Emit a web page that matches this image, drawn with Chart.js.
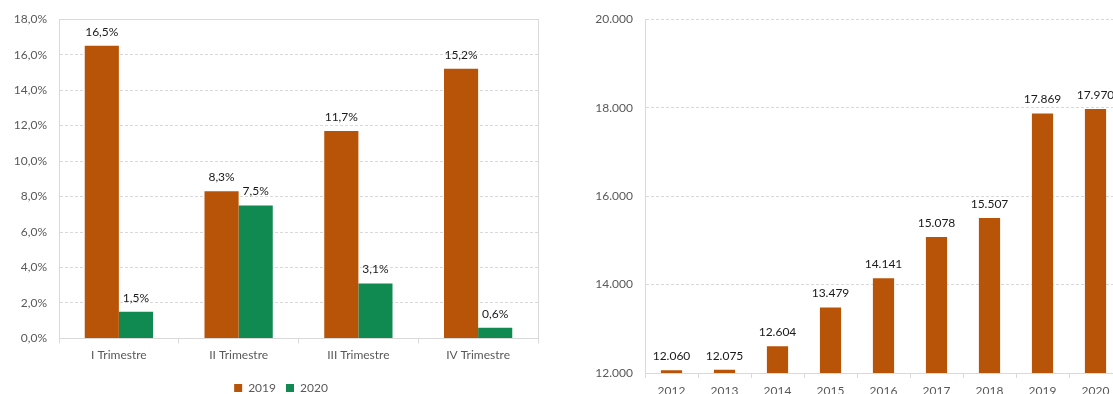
<!DOCTYPE html>
<html>
<head>
<meta charset="utf-8">
<script src="https://cdn.jsdelivr.net/npm/chart.js@4.4.0/dist/chart.umd.min.js"></script>
<style>
    html, body { margin: 0; padding: 0; background: #fff; overflow: hidden; }
    #wrap { position: relative; width: 1113px; height: 394px; overflow: hidden; }
    #trimestri { position: absolute; left: 0; top: 0; }
    #anni { position: absolute; left: 560px; top: 0; }
</style>
</head>
<body>
<div id="wrap">
    <canvas id="trimestri" width="560" height="404"></canvas>
    <canvas id="anni" width="580" height="420"></canvas>
</div>
<script>
// dati - grafico trimestri
const trimestri = ['I Trimestre', 'II Trimestre', 'III Trimestre', 'IV Trimestre'];
const valori2019 = [16.5, 8.3, 11.7, 15.2];
const valori2020 = [1.5, 7.5, 3.1, 0.6];

// dati - grafico anni
const anni = ['2012', '2013', '2014', '2015', '2016', '2017', '2018', '2019', '2020'];
const valoriAnni = [12060, 12075, 12604, 13479, 14141, 15078, 15507, 17869, 17970];

const ARANCIO = '#B85407';
const VERDE = '#118A52';
const GRIGIO = '#D9D9D9';
const TESTO = '#595959';
const FONT = 'Lato, "Noto Sans", sans-serif';

Chart.defaults.font.family = FONT;
Chart.defaults.font.size = 12;
Chart.defaults.color = TESTO;

const percento = v => v.toFixed(1).replace('.', ',') + '%';
const migliaia = v => String(v).replace(/\B(?=(\d{3})+(?!\d))/g, '.');

// etichette sopra le barre
function etichette(formatter) {
    return {
        id: 'etichette',
        afterDatasetsDraw(chart) {
            const ctx = chart.ctx;
            ctx.save();
            ctx.font = '12px ' + FONT;
            ctx.fillStyle = '#1A1A1A';
            ctx.textAlign = 'center';
            ctx.textBaseline = 'middle';
            chart.data.datasets.forEach((ds, i) => {
                chart.getDatasetMeta(i).data.forEach((bar, j) => {
                    ctx.fillText(formatter(ds.data[j]), bar.x, bar.y - 14);
                });
            });
            ctx.restore();
        }
    };
}

// cornice dell'area del grafico
const cornice = {
    id: 'cornice',
    beforeDatasetsDraw(chart) {
        const a = chart.chartArea;
        const ctx = chart.ctx;
        ctx.save();
        ctx.strokeStyle = GRIGIO;
        ctx.lineWidth = 1;
        ctx.strokeRect(Math.round(a.left) + 0.5, Math.round(a.top) + 0.5,
            Math.round(a.right - a.left), Math.round(a.bottom - a.top));
        ctx.restore();
    }
};

// la legenda è un po' spostata a destra rispetto al centro
const spostaLegenda = {
    id: 'spostaLegenda',
    afterLayout(chart) {
        if (chart.legend) {
            chart.legend.left += 12;
        }
    }
};

(function () {
    "use strict";

    new Chart(document.getElementById('trimestri'), {
        type: 'bar',
        data: {
            labels: trimestri,
            datasets: [
                { label: '2019', data: valori2019, backgroundColor: ARANCIO },
                { label: '2020', data: valori2020, backgroundColor: VERDE }
            ]
        },
        options: {
            responsive: false,
            animation: false,
            layout: { padding: { left: 12, right: 22, top: 19, bottom: 0 } },
            datasets: { bar: { categoryPercentage: 0.57, barPercentage: 1 } },
            plugins: {
                legend: {
                    position: 'bottom',
                    labels: { boxWidth: 8, boxHeight: 8, padding: 10, color: TESTO, font: { size: 12 } }
                },
                tooltip: { enabled: false }
            },
            scales: {
                x: {
                    afterFit: s => { s.height = 33.6; },
                    grid: { drawOnChartArea: false, drawTicks: true, tickLength: 5, color: GRIGIO },
                    border: { color: GRIGIO },
                    ticks: { padding: 5, color: TESTO }
                },
                y: {
                    min: 0,
                    max: 18,
                    afterFit: s => { s.width = 47; },
                    grid: { color: GRIGIO, drawTicks: false },
                    border: { color: GRIGIO, dash: [3, 2] },
                    ticks: { stepSize: 2, padding: 12, color: TESTO, callback: v => percento(v) }
                }
            }
        },
        plugins: [cornice, etichette(percento), spostaLegenda]
    });

    new Chart(document.getElementById('anni'), {
        type: 'bar',
        data: {
            labels: anni,
            datasets: [
                { label: 'Totale', data: valoriAnni, backgroundColor: ARANCIO }
            ]
        },
        options: {
            responsive: false,
            animation: false,
            layout: { padding: { left: 0, right: 18, top: 19, bottom: 0 } },
            datasets: { bar: { categoryPercentage: 1, barPercentage: 0.4 } },
            plugins: {
                legend: { display: false },
                tooltip: { enabled: false }
            },
            scales: {
                x: {
                    afterFit: s => { s.height = 47; },
                    grid: { drawOnChartArea: false, drawTicks: true, tickLength: 5, color: GRIGIO },
                    border: { color: GRIGIO },
                    ticks: { padding: 6, color: TESTO }
                },
                y: {
                    min: 12000,
                    max: 20000,
                    afterFit: s => { s.width = 85; },
                    grid: { color: GRIGIO, drawTicks: false },
                    border: { color: GRIGIO, dash: [3, 2] },
                    ticks: { stepSize: 2000, padding: 12, color: TESTO, callback: v => migliaia(v) }
                }
            }
        },
        plugins: [etichette(migliaia)]
    });
})();
</script>
</body>
</html>
